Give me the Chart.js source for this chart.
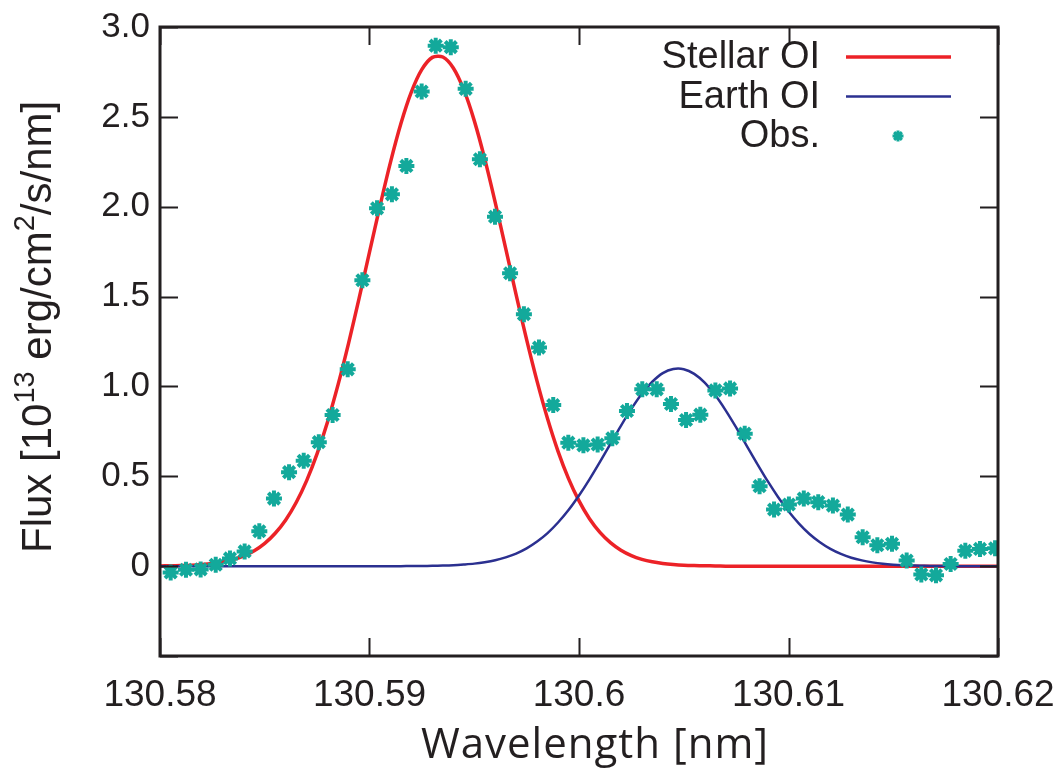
<!DOCTYPE html>
<html>
<head>
<meta charset="utf-8">
<script src="https://cdn.jsdelivr.net/npm/chart.js@4.4.1/dist/chart.umd.min.js"></script>
<style>
  html, body { margin: 0; padding: 0; background: #fff; }
  #wrap { width: 1062px; height: 778px; }
</style>
</head>
<body>
<div id="wrap"><canvas id="chart" width="1062" height="778"></canvas></div>
<script>
// model wavelength grid [nm]
const modelWavelength = [
  130.5800, 130.5805, 130.5810, 130.5815, 130.5820, 130.5825, 130.5830, 130.5835, 130.5840, 130.5845,
  130.5850, 130.5855, 130.5860, 130.5865, 130.5870, 130.5875, 130.5880, 130.5885, 130.5890, 130.5895,
  130.5900, 130.5905, 130.5910, 130.5915, 130.5920, 130.5925, 130.5930, 130.5935, 130.5940, 130.5945,
  130.5950, 130.5955, 130.5960, 130.5965, 130.5970, 130.5975, 130.5980, 130.5985, 130.5990, 130.5995,
  130.6000, 130.6005, 130.6010, 130.6015, 130.6020, 130.6025, 130.6030, 130.6035, 130.6040, 130.6045,
  130.6050, 130.6055, 130.6060, 130.6065, 130.6070, 130.6075, 130.6080, 130.6085, 130.6090, 130.6095,
  130.6100, 130.6105, 130.6110, 130.6115, 130.6120, 130.6125, 130.6130, 130.6135, 130.6140, 130.6145,
  130.6150, 130.6155, 130.6160, 130.6165, 130.6170, 130.6175, 130.6180, 130.6185, 130.6190, 130.6195,
  130.6200
];

// stellar OI line profile
const stellarOI = [
  0.001, 0.002, 0.003, 0.005, 0.009, 0.015, 0.024, 0.037, 0.057, 0.086,
  0.127, 0.183, 0.257, 0.354, 0.476, 0.626, 0.804, 1.010, 1.240, 1.489,
  1.747, 2.004, 2.247, 2.463, 2.639, 2.764, 2.831, 2.833, 2.772, 2.651,
  2.479, 2.266, 2.024, 1.768, 1.509, 1.260, 1.028, 0.820, 0.639, 0.487,
  0.363, 0.264, 0.188, 0.131, 0.089, 0.059, 0.038, 0.024, 0.015, 0.009,
  0.005, 0.003, 0.002, 0.001, 0, 0, 0, 0, 0, 0,
  0, 0, 0, 0, 0, 0, 0, 0, 0, 0,
  0, 0, 0, 0, 0, 0, 0, 0, 0, 0,
  0
];

// geocoronal (earth) OI line profile
const earthOI = [
  0, 0, 0, 0, 0, 0, 0, 0, 0, 0,
  0, 0, 0, 0, 0, 0, 0, 0, 0, 0,
  0, 0, 0, 0, 0.001, 0.001, 0.002, 0.003, 0.005, 0.009,
  0.014, 0.022, 0.033, 0.049, 0.070, 0.099, 0.137, 0.184, 0.243, 0.312,
  0.393, 0.483, 0.580, 0.681, 0.781, 0.875, 0.959, 1.026, 1.074, 1.097,
  1.096, 1.070, 1.021, 0.952, 0.867, 0.772, 0.671, 0.571, 0.474, 0.385,
  0.305, 0.237, 0.179, 0.133, 0.096, 0.068, 0.047, 0.032, 0.021, 0.013,
  0.008, 0.005, 0.003, 0.002, 0.001, 0.001, 0, 0, 0, 0,
  0
];

// observed spectrum
const obsWavelength = [
  130.58051, 130.58124, 130.58194, 130.58266, 130.58334, 130.58404, 130.58474, 130.58544, 130.58616, 130.58686,
  130.58758, 130.58824, 130.58896, 130.58966, 130.59036, 130.59107, 130.59176, 130.59249, 130.59316, 130.59388,
  130.59459, 130.59527, 130.59599, 130.59671, 130.59737, 130.59809, 130.59877, 130.59949, 130.60021, 130.60089,
  130.60159, 130.60229, 130.60302, 130.60371, 130.60439, 130.60511, 130.60579, 130.60651, 130.60721, 130.60791,
  130.60862, 130.60931, 130.61002, 130.61073, 130.61142, 130.61212, 130.61283, 130.61354, 130.61424, 130.61494,
  130.61564, 130.61634, 130.61704, 130.61774, 130.61844, 130.61914, 130.61986
];
const obsFlux = [
  -0.035, -0.020, -0.018, 0.008, 0.043, 0.082, 0.194, 0.376, 0.523, 0.586,
  0.690, 0.841, 1.095, 1.591, 1.991, 2.069, 2.227, 2.641, 2.896, 2.888,
  2.656, 2.264, 1.944, 1.630, 1.402, 1.216, 0.896, 0.687, 0.672, 0.677,
  0.711, 0.863, 0.984, 0.984, 0.902, 0.813, 0.843, 0.978, 0.989, 0.737,
  0.445, 0.315, 0.343, 0.376, 0.356, 0.337, 0.287, 0.161, 0.116, 0.124,
  0.031, -0.046, -0.051, 0.012, 0.085, 0.096, 0.099
];

const xTickValues = [130.58, 130.59, 130.60, 130.61, 130.62];
const yTickValues = [-0.5, 0, 0.5, 1.0, 1.5, 2.0, 2.5, 3.0];

const xTitle = 'Wavelength [nm]';
// y title pieces: [text, superscript?]
const yTitleParts = [['Flux [10', false], ['13', true], [' erg/cm', false], ['2', true], ['/s/nm]', false]];

const INK = '#231f20';
const SANS = '"Liberation Sans", Arial, Helvetica, sans-serif';

function toPoints(xs, ys) {
  return xs.map((x, i) => ({ x: x, y: ys[i] }));
}

// draws inward ticks on all four sides, the frame, the axis titles and the legend
const frameAndLegend = {
  id: 'frameAndLegend',
  afterDraw(chart) {
    const ctx = chart.ctx;
    const a = chart.chartArea;
    const xs = chart.scales.x;
    const ys = chart.scales.y;
    const tick = 18;

    ctx.save();
    ctx.strokeStyle = INK;
    ctx.lineWidth = 2;
    ctx.beginPath();
    xs.ticks.forEach((t) => {
      const px = Math.round(xs.getPixelForValue(t.value)) + 0.5;
      ctx.moveTo(px, a.bottom); ctx.lineTo(px, a.bottom - tick);
      ctx.moveTo(px, a.top); ctx.lineTo(px, a.top + tick);
    });
    ys.ticks.forEach((t) => {
      const py = Math.round(ys.getPixelForValue(t.value)) + 0.5;
      ctx.moveTo(a.left, py); ctx.lineTo(a.left + tick, py);
      ctx.moveTo(a.right, py); ctx.lineTo(a.right - tick, py);
    });
    ctx.stroke();

    ctx.lineWidth = 3;
    ctx.strokeRect(a.left, a.top, a.right - a.left, a.bottom - a.top);

    // x title
    ctx.fillStyle = INK;
    ctx.font = '42px "Open Sans", sans-serif';
    ctx.textAlign = 'center';
    ctx.textBaseline = 'alphabetic';
    if ('letterSpacing' in ctx) ctx.letterSpacing = '1px';
    ctx.fillText(xTitle, 595, 758);
    if ('letterSpacing' in ctx) ctx.letterSpacing = '0px';

    // y title with superscripts, rotated
    ctx.save();
    ctx.translate(51, 553);
    ctx.rotate(-Math.PI / 2);
    ctx.textAlign = 'left';
    let pos = 0;
    yTitleParts.forEach(([txt, sup]) => {
      ctx.font = (sup ? '29px ' : '42px ') + SANS;
      ctx.fillText(txt, pos, sup ? -17 : 0);
      pos += ctx.measureText(txt).width;
    });
    ctx.restore();

    // legend, text on the left and sample on the right
    const legendOrder = [1, 2, 0];
    ctx.font = '38px ' + SANS;
    ctx.fillStyle = INK;
    ctx.textAlign = 'right';
    ctx.textBaseline = 'middle';
    legendOrder.forEach((di, row) => {
      const ds = chart.data.datasets[di];
      const cy = a.top + 30 + row * 39.5;
      ctx.fillText(ds.label, a.right - 178, cy + 1);
      if (ds.showLine) {
        ctx.strokeStyle = ds.borderColor;
        ctx.lineWidth = ds.borderWidth;
        ctx.beginPath();
        ctx.moveTo(a.right - 152, cy);
        ctx.lineTo(a.right - 47, cy);
        ctx.stroke();
      } else {
        const cx = a.right - 100;
        const r = 5.5;
        const d = r * Math.SQRT1_2;
        ctx.strokeStyle = ds.borderColor;
        ctx.lineWidth = 3;
        ctx.beginPath();
        ctx.moveTo(cx - r, cy); ctx.lineTo(cx + r, cy);
        ctx.moveTo(cx, cy - r); ctx.lineTo(cx, cy + r);
        ctx.moveTo(cx - d, cy - d); ctx.lineTo(cx + d, cy + d);
        ctx.moveTo(cx - d, cy + d); ctx.lineTo(cx + d, cy - d);
        ctx.stroke();
      }
    });
    ctx.restore();
  }
};

const chart = new Chart(document.getElementById('chart').getContext('2d'), {
  type: 'scatter',
  data: {
    datasets: [
      {
        label: 'Obs.',
        data: toPoints(obsWavelength, obsFlux),
        showLine: false,
        pointStyle: 'star',
        pointRadius: 8,
        pointBorderWidth: 4,
        borderColor: '#13a99b',
        backgroundColor: '#13a99b',
        order: 0
      },
      {
        label: 'Stellar OI',
        data: toPoints(modelWavelength, stellarOI),
        showLine: true,
        pointRadius: 0,
        borderColor: '#ec2227',
        borderWidth: 3.5,
        tension: 0.3,
        order: 2
      },
      {
        label: 'Earth OI',
        data: toPoints(modelWavelength, earthOI),
        showLine: true,
        pointRadius: 0,
        borderColor: '#2b3090',
        borderWidth: 2.5,
        tension: 0.3,
        order: 1
      }
    ]
  },
  options: {
    responsive: false,
    animation: false,
    devicePixelRatio: 1,
    layout: { padding: { top: 27, right: 64, bottom: 0, left: 0 } },
    plugins: {
      legend: { display: false },
      tooltip: { enabled: false }
    },
    scales: {
      x: {
        type: 'linear',
        min: 130.58,
        max: 130.62,
        afterBuildTicks: (scale) => { scale.ticks = xTickValues.map((v) => ({ value: v })); },
        afterFit: (scale) => { scale.height = 122; scale.paddingLeft = 0; scale.paddingRight = 0; },
        grid: { display: false, drawTicks: false },
        border: { display: false },
        ticks: {
          padding: 18,
          color: INK,
          font: { family: SANS, size: 37 },
          maxRotation: 0,
          callback: (v) => String(parseFloat(Number(v).toFixed(2)))
        },
        title: { display: false, text: xTitle }
      },
      y: {
        type: 'linear',
        min: -0.5,
        max: 3.0,
        afterBuildTicks: (scale) => { scale.ticks = yTickValues.map((v) => ({ value: v })); },
        afterFit: (scale) => { scale.width = 160; scale.paddingTop = 0; scale.paddingBottom = 0; },
        grid: { display: false, drawTicks: false },
        border: { display: false },
        ticks: {
          padding: 10,
          color: INK,
          font: { family: SANS, size: 35 },
          callback: (v) => (v < 0 ? '' : (v === 0 ? '0' : Number(v).toFixed(1)))
        },
        title: { display: false, text: 'Flux [10^13 erg/cm^2/s/nm]' }
      }
    }
  },
  plugins: [frameAndLegend]
});
</script>
</body>
</html>
